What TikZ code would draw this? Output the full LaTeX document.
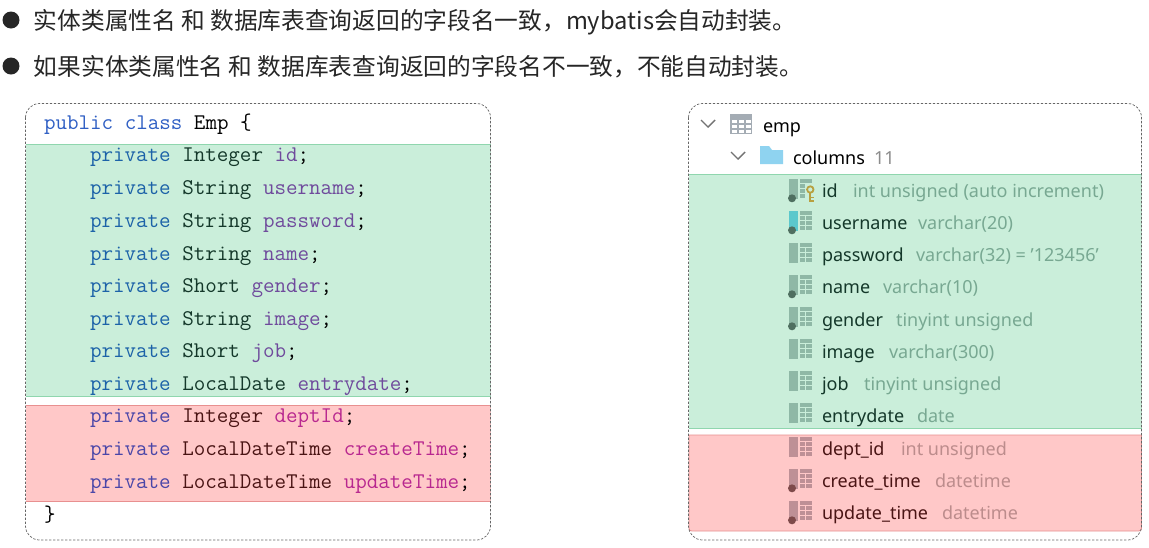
\documentclass[tikz,border=0pt]{standalone}
\usepackage{fontspec}
\setmainfont{Noto Sans}
\newfontfamily\cjk{Noto Sans CJK SC}
\definecolor{gfill}{HTML}{CAEEDA}
\definecolor{gline}{HTML}{8FD6AE}
\definecolor{rfill}{HTML}{FFC8C8}
\definecolor{rline}{HTML}{E89090}
\definecolor{kwblue}{HTML}{2F5FC4}
\definecolor{kwg}{HTML}{1C62A8}
\definecolor{kwr}{HTML}{4A46A8}
\definecolor{fldg}{HTML}{6F4A9C}
\definecolor{fldr}{HTML}{B8278F}
\definecolor{txg}{HTML}{14382A}
\definecolor{txr}{HTML}{4A1414}
\definecolor{typeg}{HTML}{78A892}
\definecolor{typer}{HTML}{BC8C8C}
\definecolor{icong}{HTML}{8FB8A6}
\definecolor{iconr}{HTML}{BE9096}
\definecolor{dotg}{HTML}{4F6F60}
\definecolor{dotr}{HTML}{7E4A4A}
\definecolor{iconw}{HTML}{A4ACB4}
\definecolor{folder}{HTML}{8FD3F0}
\definecolor{teal}{HTML}{5CC8CC}
\definecolor{keyc}{HTML}{B8A040}
\tikzset{
 x=1pt,y=-1pt,
 panel/.style={draw=black!60,dash pattern=on 2.4pt off 1.6pt,line width=.7pt,rounded corners=14pt},
 band/.style={line width=.8pt},
 head/.style={anchor=base west,inner sep=0,outer sep=0,font=\cjk\fontsize{23.7}{24}\selectfont,text=black!85},
 code/.style={anchor=base west,inner sep=0,outer sep=0,font=\ttfamily\fontsize{22.4}{22.4}\selectfont},
 col/.style={anchor=base west,inner sep=0,outer sep=0,font=\fontsize{18}{18}\selectfont},
 bul/.style={circle,fill=black!85,minimum size=17pt,inner sep=0},
}
\newcommand{\codeline}[7]{%
 \node[code] (#1) at (90,#2) {\textcolor{#3}{private} \textcolor{#4}{#6} \textcolor{#5}{#7}\textcolor{black}{;}};}
% name, baseline-6, text colour, type colour, name, type, x of type
\newcommand{\colrow}[7]{%
 \node[col,text=#3] (#1) at (822,#2+6) {#5};
 \node[col,text=#4] (#1t) at (#7,#2+6) {#6};}
\newcommand{\colicon}[3]{% y, bar colour, table colour
 \fill[#2] (789,#1-12) rectangle (798,#1+8);
 \fill[#3] (800,#1-12) rectangle (812,#1-8);
 \foreach \yy in {-7,-2,3}{\fill[#3] (800,#1+\yy) rectangle (805,#1+\yy+4);\fill[#3] (806.2,#1+\yy) rectangle (812,#1+\yy+4);}}
\newcommand{\colkey}[2]{\fill[#2] (792,#1+7.3) circle (4);}
\begin{document}
\begin{tikzpicture}
\useasboundingbox (0,0) rectangle (1149,547);
\fill[white] (0,0) rectangle (1149,547);
\node[bul] (b1) at (11,20) {};
\node[bul] (b2) at (11,66) {};
\node[head] (h1) at (34,29) {实体类属性名 和 数据库表查询返回的字段名一致，mybatis会自动封装。};
\node[head] (h2) at (34,75) {如果实体类属性名 和 数据库表查询返回的字段名不一致，不能自动封装。};
% left panel
\fill[gfill] (26,144.5) rectangle (490.5,396);
\draw[gline,band] (26,144.5) -- (490.5,144.5);
\draw[gline,band] (26,396) -- (490.5,396);
\fill[rfill] (26,405) rectangle (490.5,501);
\draw[rline,band] (26,405) -- (490.5,405);
\draw[rline,band] (26,501) -- (490.5,501);
\draw[panel] (25.5,103.5) rectangle (490.5,540);
\node[code] (c0) at (44,129) {\textcolor{kwblue}{public class} \textcolor{black}{Emp \{}};
\codeline{c1}{161}{kwg}{txg}{fldg}{Integer}{id}
\codeline{c2}{194}{kwg}{txg}{fldg}{String}{username}
\codeline{c3}{227}{kwg}{txg}{fldg}{String}{password}
\codeline{c4}{260}{kwg}{txg}{fldg}{String}{name}
\codeline{c5}{292}{kwg}{txg}{fldg}{Short}{gender}
\codeline{c6}{325}{kwg}{txg}{fldg}{String}{image}
\codeline{c7}{357}{kwg}{txg}{fldg}{Short}{job}
\codeline{c8}{390}{kwg}{txg}{fldg}{LocalDate}{entrydate}
\codeline{c9}{422}{kwr}{txr}{fldr}{Integer}{deptId}
\codeline{c10}{455}{kwr}{txr}{fldr}{LocalDateTime}{createTime}
\codeline{c11}{488}{kwr}{txr}{fldr}{LocalDateTime}{updateTime}
\node[code] (c12) at (44,521) {\}};
% right panel
\fill[gfill] (689,174) rectangle (1141.5,428);
\draw[gline,band] (689,174) -- (1141.5,174);
\draw[gline,band] (689,428) -- (1141.5,428);
\path[fill=rfill,draw=rline,band] (689,435) -- (1141.5,435) -- (1141.5,525) .. controls (1141.5,531) .. (1135.5,531) -- (695,531) .. controls (689,531) .. (689,525) -- cycle;
\draw[panel] (688.5,103.5) rectangle (1141.5,540);
% tree header
\draw[black!55,line width=1.4pt] (701,120) -- (708,127) -- (715,120);
\draw[black!55,line width=1.4pt] (731,152) -- (738,159) -- (745,152);
\fill[iconw] (730,114) rectangle (752,134);
\foreach \xx in {732,739,746}{\foreach \yy in {120,125,130}{\fill[white] (\xx,\yy) rectangle ++(5,3);}}
\fill[folder] (760,150) -- (760,146) -- (769,146) -- (772,150) -- (783,150) -- (783,164) -- (760,164) -- cycle;
\node[col] (emp) at (763,132) {emp};
\node[col] (columns) at (793,164) {columns};
\node[col,text=black!45] (count) at (874,164) {11};
% icons
\foreach \yc in {191,223,255,287,319,351,383,415}{\colicon{\yc}{icong}{icong}}
\fill[teal] (789,211) rectangle (798,231);
\foreach \yc in {191,223,287,319}{\colkey{\yc}{dotg}}
\foreach \yc in {449,481,513}{\colicon{\yc}{iconr}{iconr}}
\foreach \yc in {481,513}{\colkey{\yc}{dotr}}
% key
\fill[gfill] (805.5,183) rectangle (816,203);
\draw[keyc,line width=1.8pt] (810.3,189.5) circle (3.2);
\draw[keyc,line width=1.8pt] (810.3,193) -- (810.3,201.5) (810.3,197.5) -- (813.5,197.5) (810.3,200.8) -- (813.5,200.8);
% rows
\colrow{r1}{191}{txg}{typeg}{id}{int unsigned (auto increment)}{853}
\colrow{r2}{223}{txg}{typeg}{username}{varchar(20)}{918}
\colrow{r3}{255}{txg}{typeg}{password}{varchar(32) = '123456'}{916}
\colrow{r4}{287}{txg}{typeg}{name}{varchar(10)}{883}
\colrow{r5}{320}{txg}{typeg}{gender}{tinyint unsigned}{896}
\colrow{r6}{352}{txg}{typeg}{image}{varchar(300)}{889}
\colrow{r7}{384}{txg}{typeg}{job}{tinyint unsigned}{864}
\colrow{r8}{416}{txg}{typeg}{entrydate}{date}{917}
\colrow{r9}{449}{txr}{typer}{dept\_id}{int unsigned}{901}
\colrow{r10}{481}{txr}{typer}{create\_time}{datetime}{935}
\colrow{r11}{513}{txr}{typer}{update\_time}{datetime}{942}
\end{tikzpicture}
\end{document}
